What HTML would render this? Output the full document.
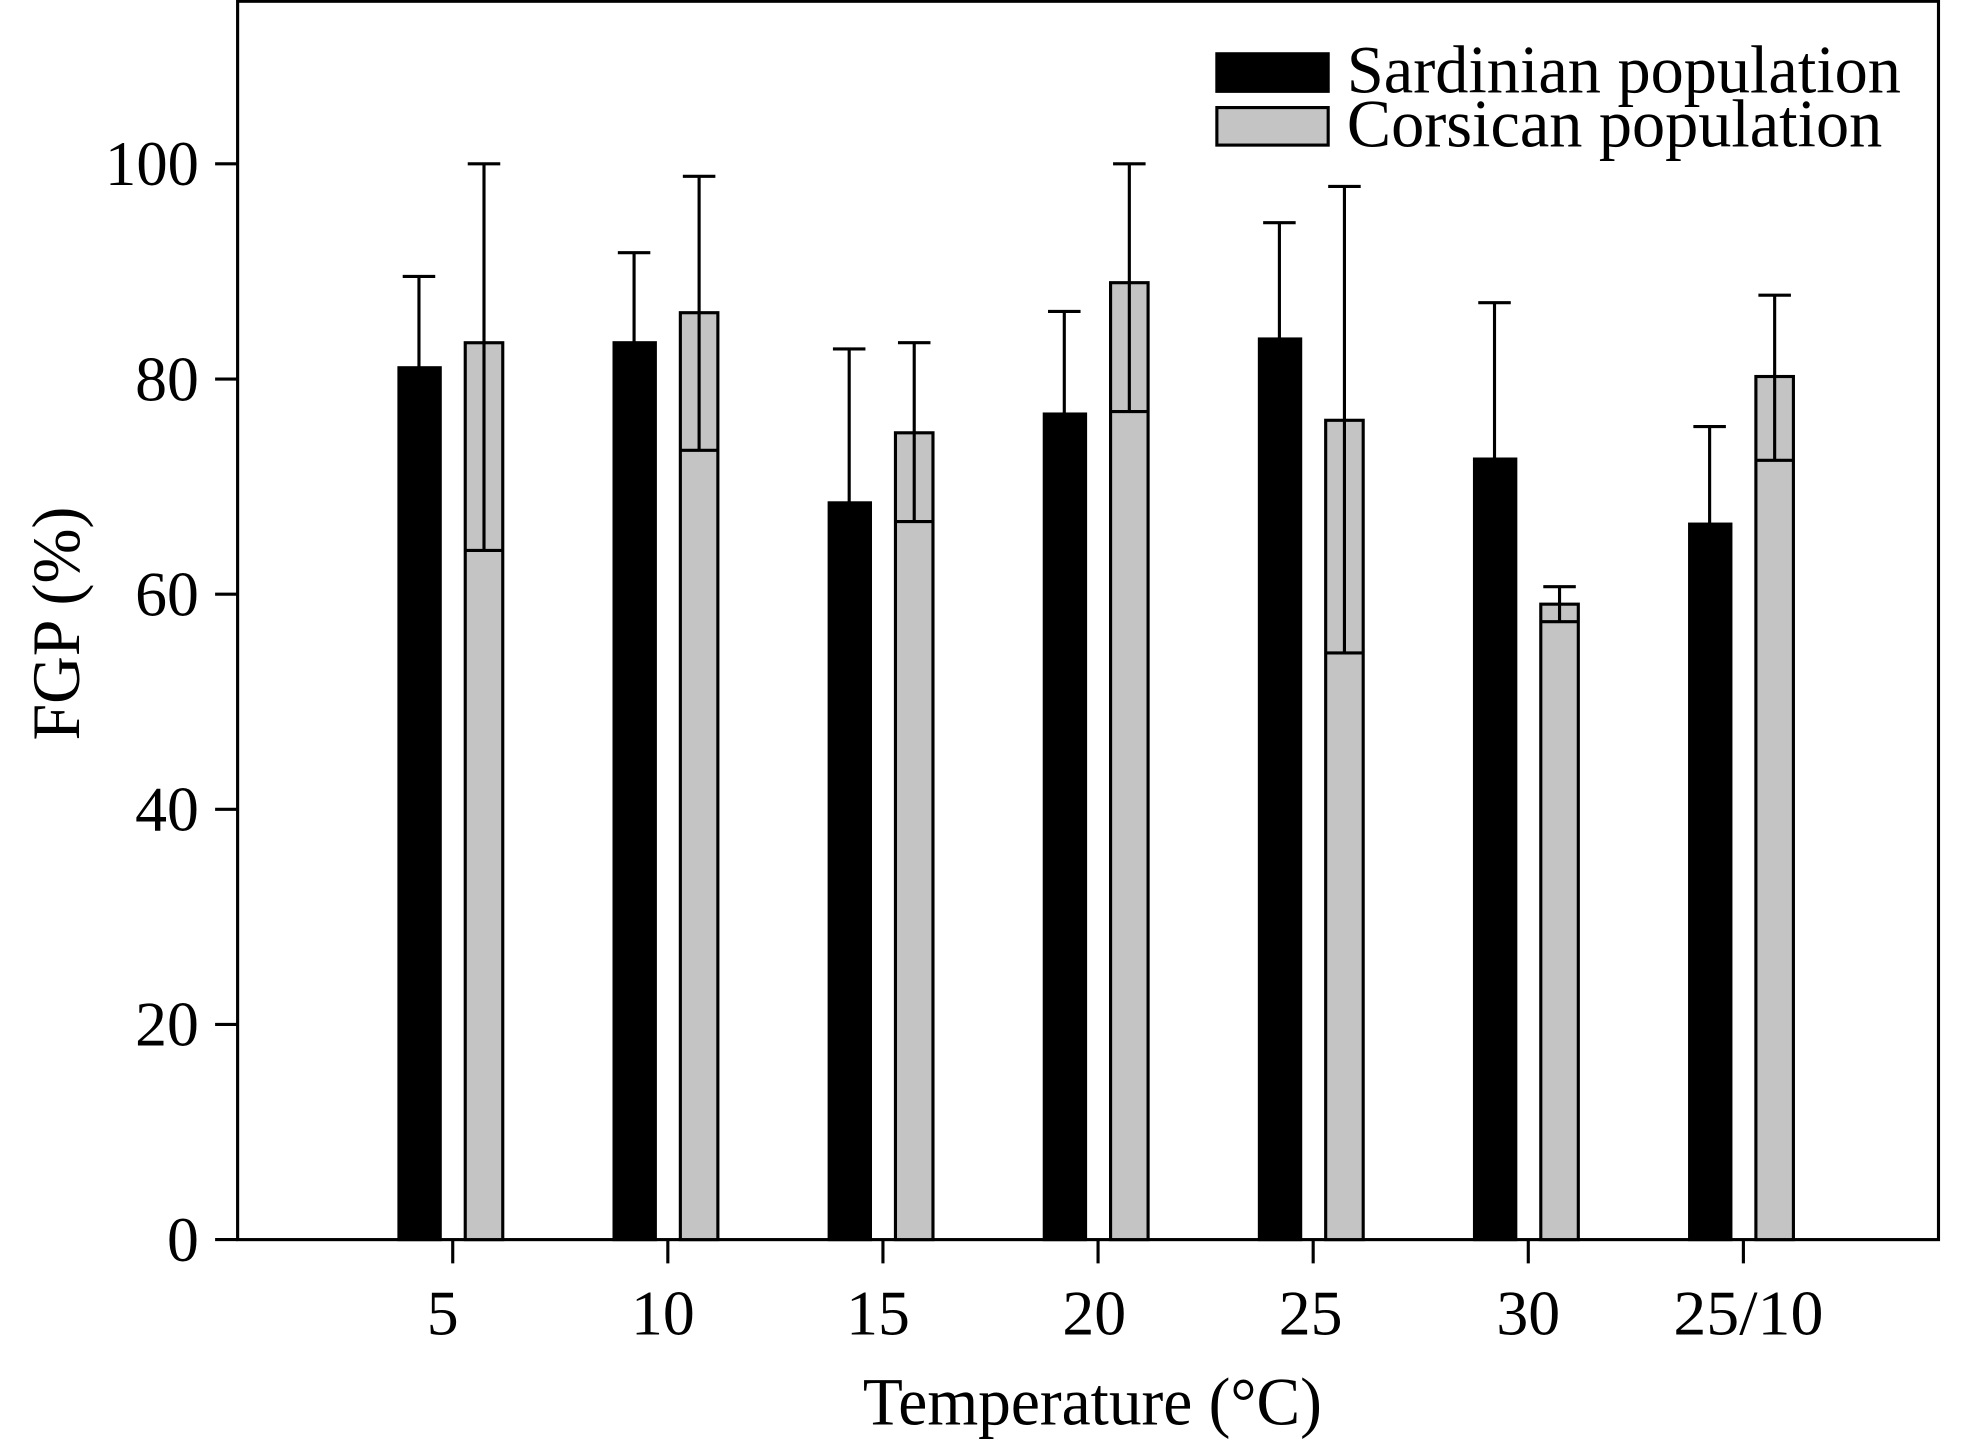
<!DOCTYPE html>
<html><head><meta charset="utf-8"><style>
html,body{margin:0;padding:0;background:#fff;}
svg{display:block;}
text{font-family:"Liberation Serif",serif;fill:#000;}
</style></head><body>
<svg width="1961" height="1441" viewBox="0 0 1568 1152" preserveAspectRatio="none" xmlns="http://www.w3.org/2000/svg">
<rect x="190" y="1" width="1360" height="990" fill="none" stroke="#000" stroke-width="2.5"/>
<g stroke="#000" stroke-width="2.5">
<line x1="172" y1="991" x2="190" y2="991"/><line x1="172" y1="819" x2="190" y2="819"/>
<line x1="172" y1="647" x2="190" y2="647"/><line x1="172" y1="475" x2="190" y2="475"/>
<line x1="172" y1="303" x2="190" y2="303"/><line x1="172" y1="131" x2="190" y2="131"/>
<line x1="362" y1="991" x2="362" y2="1010"/><line x1="534" y1="991" x2="534" y2="1010"/>
<line x1="706" y1="991" x2="706" y2="1010"/><line x1="878" y1="991" x2="878" y2="1010"/>
<line x1="1050" y1="991" x2="1050" y2="1010"/><line x1="1222" y1="991" x2="1222" y2="1010"/>
<line x1="1394" y1="991" x2="1394" y2="1010"/>
</g>
<g font-size="51" text-anchor="end">
<text x="159" y="1008">0</text><text x="159" y="836">20</text><text x="159" y="664">40</text>
<text x="159" y="492">60</text><text x="159" y="320">80</text><text x="159" y="148" textLength="75" lengthAdjust="spacingAndGlyphs">100</text>
</g>
<g font-size="51" text-anchor="middle">
<text x="354" y="1067">5</text><text x="530" y="1067">10</text><text x="702" y="1067">15</text>
<text x="875" y="1067">20</text><text x="1048" y="1067">25</text><text x="1222" y="1067">30</text>
<text x="1398" y="1067" textLength="120" lengthAdjust="spacingAndGlyphs">25/10</text>
</g>
<text x="690" y="1139" font-size="54" textLength="367" lengthAdjust="spacingAndGlyphs">Temperature (°C)</text>
<text transform="translate(63,592) rotate(-90)" font-size="54" textLength="187" lengthAdjust="spacingAndGlyphs">FGP (%)</text>
<g stroke="#000" stroke-width="2.5">
<line x1="335" y1="294" x2="335" y2="221"/><line x1="322" y1="221" x2="348" y2="221"/>
<rect x="319" y="294" width="33" height="697" fill="#000"/>
<rect x="372" y="274" width="30" height="717" fill="#c4c4c4"/>
<line x1="387" y1="131" x2="387" y2="440"/><line x1="374" y1="131" x2="400" y2="131"/><line x1="372" y1="440" x2="402" y2="440"/>
<line x1="507" y1="274" x2="507" y2="202"/><line x1="494" y1="202" x2="520" y2="202"/>
<rect x="491" y="274" width="33" height="717" fill="#000"/>
<rect x="544" y="250" width="30" height="741" fill="#c4c4c4"/>
<line x1="559" y1="141" x2="559" y2="360"/><line x1="546" y1="141" x2="572" y2="141"/><line x1="544" y1="360" x2="574" y2="360"/>
<line x1="679" y1="402" x2="679" y2="279"/><line x1="666" y1="279" x2="692" y2="279"/>
<rect x="663" y="402" width="33" height="589" fill="#000"/>
<rect x="716" y="346" width="30" height="645" fill="#c4c4c4"/>
<line x1="731" y1="274" x2="731" y2="417"/><line x1="718" y1="274" x2="744" y2="274"/><line x1="716" y1="417" x2="746" y2="417"/>
<line x1="851" y1="331" x2="851" y2="249"/><line x1="838" y1="249" x2="864" y2="249"/>
<rect x="835" y="331" width="33" height="660" fill="#000"/>
<rect x="888" y="226" width="30" height="765" fill="#c4c4c4"/>
<line x1="903" y1="131" x2="903" y2="329"/><line x1="890" y1="131" x2="916" y2="131"/><line x1="888" y1="329" x2="918" y2="329"/>
<line x1="1023" y1="271" x2="1023" y2="178"/><line x1="1010" y1="178" x2="1036" y2="178"/>
<rect x="1007" y="271" width="33" height="720" fill="#000"/>
<rect x="1060" y="336" width="30" height="655" fill="#c4c4c4"/>
<line x1="1075" y1="149" x2="1075" y2="522"/><line x1="1062" y1="149" x2="1088" y2="149"/><line x1="1060" y1="522" x2="1090" y2="522"/>
<line x1="1195" y1="367" x2="1195" y2="242"/><line x1="1182" y1="242" x2="1208" y2="242"/>
<rect x="1179" y="367" width="33" height="624" fill="#000"/>
<rect x="1232" y="483" width="30" height="508" fill="#c4c4c4"/>
<line x1="1247" y1="469" x2="1247" y2="497"/><line x1="1234" y1="469" x2="1260" y2="469"/><line x1="1232" y1="497" x2="1262" y2="497"/>
<line x1="1367" y1="419" x2="1367" y2="341"/><line x1="1354" y1="341" x2="1380" y2="341"/>
<rect x="1351" y="419" width="33" height="572" fill="#000"/>
<rect x="1404" y="301" width="30" height="690" fill="#c4c4c4"/>
<line x1="1419" y1="236" x2="1419" y2="368"/><line x1="1406" y1="236" x2="1432" y2="236"/><line x1="1404" y1="368" x2="1434" y2="368"/>
<rect x="973" y="43" width="89" height="30" fill="#000"/>
<rect x="973" y="86" width="89" height="30" fill="#c4c4c4"/>
</g>
<text x="1077" y="74" font-size="54" textLength="443" lengthAdjust="spacingAndGlyphs">Sardinian population</text>
<text x="1077" y="117" font-size="54" textLength="428" lengthAdjust="spacingAndGlyphs">Corsican population</text>
</svg>
</body></html>
